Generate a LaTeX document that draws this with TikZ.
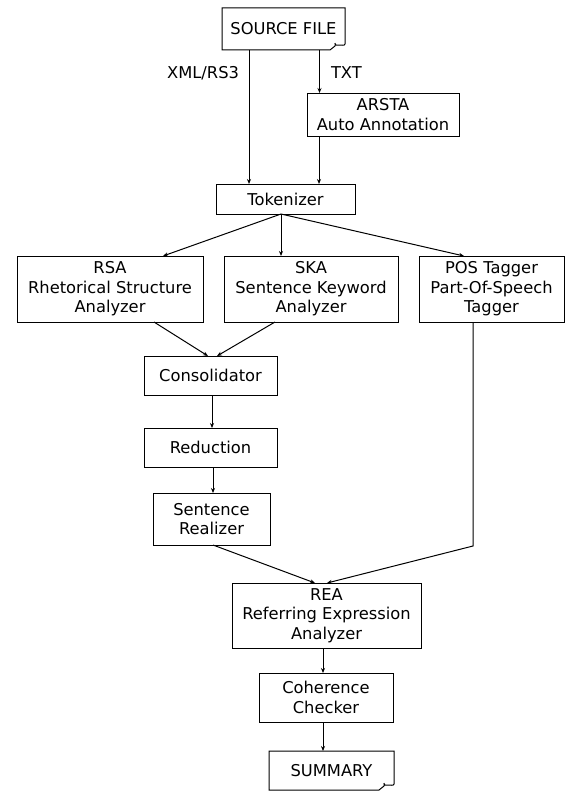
\documentclass[tikz,border=0pt]{standalone}
\usepackage{fontspec}
\setmainfont{DejaVu Sans}
\usepackage{tikz}
\usetikzlibrary{arrows.meta}

\begin{document}
\begin{tikzpicture}[x=1pt,y=-1pt,
    every node/.style={font=\fontsize{16.3}{19.5}\selectfont, inner sep=0pt, outer sep=0pt},
    box/.style={draw, line width=1pt, align=center},
    doc/.style={align=center},
    arr/.style={line width=1pt, -{Stealth[length=5pt,width=4pt]}},
    ln/.style={line width=1pt}]
            \useasboundingbox (0,0) rectangle (566,792);
            \node[doc, minimum width=123pt, minimum height=42pt] (src) at (283.5,29) {SOURCE FILE};
            \node[box, minimum width=152pt, minimum height=43pt] (arsta) at (383,114.5) {ARSTA\\Auto Annotation};
            \node[box, minimum width=139pt, minimum height=30pt] (tok) at (285.5,199) {Tokenizer};
            \node[box, minimum width=186pt, minimum height=66pt] (rsa) at (110,289) {RSA\\Rhetorical Structure\\Analyzer};
            \node[box, minimum width=174pt, minimum height=66pt] (ska) at (311,289) {SKA\\Sentence Keyword\\Analyzer};
            \node[box, minimum width=145pt, minimum height=66pt] (pos) at (491.5,289) {POS Tagger\\Part-Of-Speech\\Tagger};
            \node[box, minimum width=133pt, minimum height=39pt] (cons) at (210.5,375.5) {Consolidator};
            \node[box, minimum width=133pt, minimum height=39pt] (red) at (210.5,447.5) {Reduction};
            \node[box, minimum width=117pt, minimum height=52pt] (sreal) at (211.5,519) {Sentence\\Realizer};
            \node[box, minimum width=189pt, minimum height=65pt] (rea) at (326.5,615.5) {REA\\Referring Expression\\Analyzer};
            \node[box, minimum width=134pt, minimum height=49pt] (coh) at (326,697.5) {Coherence\\Checker};
            \node[doc, minimum width=125pt, minimum height=39pt] (sum) at (331.5,770.5) {SUMMARY};
            \node[anchor=east] (xml) at (239,73) {XML/RS3};
            \node[anchor=west] (txt) at (331,73) {TXT};
            % documents with curled corner
            \draw[ln] ([yshift=6pt]src.south east) -- (src.north east) -- (src.north west) -- (src.south west) -- ([xshift=-15pt]src.south east)
                -- ([xshift=-10pt,yshift=4pt]src.south east) .. controls ([xshift=-8pt,yshift=7pt]src.south east) and ([xshift=-12pt,yshift=7pt]src.south east) .. ([xshift=-9pt,yshift=5pt]src.south east)
                .. controls ([xshift=-4pt,yshift=5pt]src.south east) and ([yshift=4pt]src.south east) .. ([yshift=6pt]src.south east);
            \draw[ln] ([yshift=6pt]sum.south east) -- (sum.north east) -- (sum.north west) -- (sum.south west) -- ([xshift=-15pt]sum.south east)
                -- ([xshift=-10pt,yshift=4pt]sum.south east) .. controls ([xshift=-8pt,yshift=7pt]sum.south east) and ([xshift=-12pt,yshift=7pt]sum.south east) .. ([xshift=-9pt,yshift=5pt]sum.south east)
                .. controls ([xshift=-4pt,yshift=5pt]sum.south east) and ([yshift=4pt]sum.south east) .. ([yshift=6pt]sum.south east);
            % connectors
            \draw[arr] ([xshift=-34.5pt]src.south) -- ([xshift=-34.5pt]src.south |- tok.north);
            \draw[arr] ([xshift=36pt]src.south) -- ([xshift=36pt]src.south |- arsta.north);
            \draw[arr] ([xshift=12pt]arsta.south west) -- ([xshift=12pt]arsta.south west |- tok.north);
            \coordinate (tokout) at ([xshift=-4.5pt]tok.south);
            \draw[arr] (tokout) -- ([xshift=53pt]rsa.north);
            \draw[arr] (tokout) -- ([xshift=-30pt]ska.north);
            \draw[arr] (tokout) -- ([xshift=-27.5pt]pos.north);
            \draw[arr] ([xshift=44pt]rsa.south) -- ([xshift=-2.5pt]cons.north);
            \draw[arr] ([xshift=-36pt]ska.south) -- ([xshift=6.5pt]cons.north);
            \draw[arr] ([xshift=1.5pt]cons.south) -- ([xshift=1.5pt]red.north);
            \draw[arr] ([xshift=2.5pt]red.south) -- ([xshift=1.5pt]sreal.north);
            \draw[arr] ([xshift=1.5pt]sreal.south) -- ([xshift=-11.5pt]rea.north);
            \coordinate (posbend) at ([xshift=-18.5pt]pos.south |- 0,546);
            \draw[arr] ([xshift=-18.5pt]pos.south) -- (posbend) -- ([xshift=0.5pt]rea.north);
            \draw[arr] ([xshift=-3.5pt]rea.south) -- ([xshift=-3pt]coh.north);
            \draw[arr] ([xshift=-3pt]coh.south) -- ([xshift=-8.5pt]sum.north);
        \end{tikzpicture}
\end{document}
